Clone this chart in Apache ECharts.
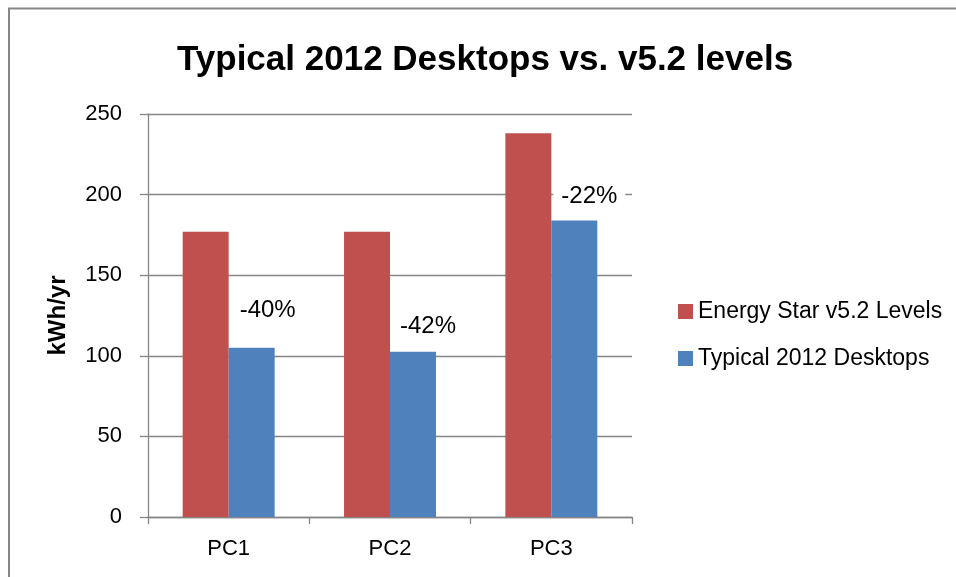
<!DOCTYPE html>
<html>
<head>
<meta charset="utf-8">
<script src="https://cdn.jsdelivr.net/npm/echarts@6/dist/echarts.min.js"></script>
<style>html,body{margin:0;padding:0;background:#fff;}#c{width:956px;height:577px;}</style>
</head>
<body>
<div id="c"></div>
<script>
const categories = ['PC1', 'PC2', 'PC3'];
const energyStar = [177, 177, 238];
const typical2012 = [105, 102.5, 184];
const changeLabels = ['-40%', '-42%', '-22%'];
const yTicks = [0, 50, 100, 150, 200, 250];

const labelNudge = [[16, -25], [15, -13], [15, -12]];
const FONT = 'Liberation Sans, Arial, sans-serif';
const GRAY = '#868686';

const chart = echarts.init(document.getElementById('c'), null, {renderer: 'canvas'});
chart.setOption({
  animation: false,
  backgroundColor: '#fff',
  graphic: [{
    type: 'rect', shape: {x: 9, y: 8.5, width: 1000, height: 600},
    style: {fill: 'none', stroke: GRAY, lineWidth: 2}, z: -1
  }],
  title: {
    text: 'Typical 2012 Desktops vs. v5.2 levels',
    left: 172, top: 38,
    textStyle: {fontFamily: FONT, fontWeight: 'bold', fontSize: 35, color: '#000'}
  },
  legend: {
    orient: 'vertical', left: 673, top: 295,
    itemWidth: 15, itemHeight: 15, itemGap: 24,
    icon: 'rect',
    textStyle: {fontFamily: FONT, fontSize: 23, color: '#000', padding: [0, 0, 0, 0]},
    data: ['Energy Star v5.2 Levels', 'Typical 2012 Desktops']
  },
  grid: {left: 148, right: 324, top: 114, bottom: 60, containLabel: false},
  xAxis: {
    type: 'category', data: categories,
    axisLine: {lineStyle: {color: GRAY, width: 1.3}},
    axisTick: {show: true, length: 7, lineStyle: {color: GRAY, width: 1.3}},
    axisLabel: {fontFamily: FONT, fontSize: 22, color: '#000', margin: 21}
  },
  yAxis: {
    type: 'value', min: yTicks[0], max: yTicks[yTicks.length - 1], interval: 50,
    name: 'kWh/yr', nameLocation: 'middle', nameGap: 78, nameRotate: 90,
    nameTextStyle: {fontFamily: FONT, fontWeight: 'bold', fontSize: 24, color: '#000'},
    axisLine: {show: true, lineStyle: {color: GRAY, width: 1.3}},
    axisTick: {show: true, length: 8, lineStyle: {color: GRAY, width: 1.3}},
    axisLabel: {fontFamily: FONT, fontSize: 22, color: '#000', margin: 26},
    splitLine: {lineStyle: {color: GRAY, width: 1.3}}
  },
  series: [
    {
      name: 'Energy Star v5.2 Levels', type: 'bar', data: energyStar,
      barGap: '0%', barCategoryGap: '43%',
      itemStyle: {color: '#C0504D'}
    },
    {
      name: 'Typical 2012 Desktops', type: 'bar',
      barGap: '0%', barCategoryGap: '43%',
      itemStyle: {color: '#4F81BD'},
      data: typical2012.map((v, i) => ({
        value: v,
        label: {
          show: true, position: 'top', distance: 0,
          offset: labelNudge[i],
          formatter: changeLabels[i],
          fontFamily: FONT, fontSize: 24, color: '#000',
          backgroundColor: '#fff', padding: [0, 8]
        }
      }))
    }
  ]
});
</script>
</body>
</html>
